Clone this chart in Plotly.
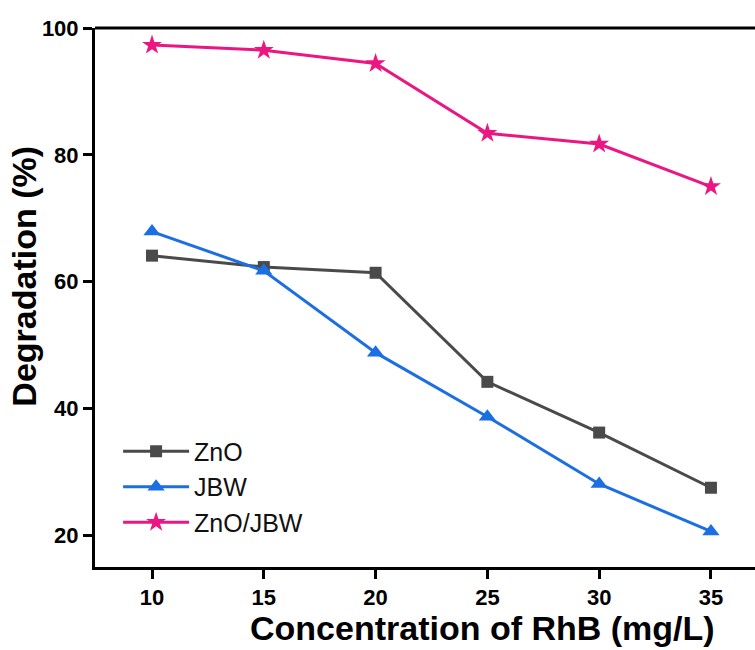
import plotly.graph_objects as go

# Photocatalytic degradation of RhB versus initial dye concentration
concentration = [10, 15, 20, 25, 30, 35]
zno = [64.1, 62.3, 61.4, 44.2, 36.2, 27.5]
jbw = [67.9, 61.7, 48.8, 38.7, 28.1, 20.6]
zno_jbw = [97.3, 96.5, 94.4, 83.4, 81.7, 75.0]

series_names = ["ZnO", "JBW", "ZnO/JBW"]
series_colors = ["#4a4a4a", "#1b6fe3", "#ec1682"]
series_symbols = ["square", "triangle-up", "star"]
series_sizes = [12, 15, 15]
series_values = [zno, jbw, zno_jbw]

y_ticks = [20, 40, 60, 80, 100]

font_family = "Liberation Sans, Arial, sans-serif"

fig = go.Figure()
for name, vals, col, sym, sz in zip(series_names, series_values, series_colors,
                                     series_symbols, series_sizes):
    fig.add_trace(go.Scatter(
        x=concentration, y=vals, name=name, mode="lines+markers",
        line=dict(color=col, width=3),
        marker=dict(symbol=sym, size=sz, color=col),
    ))

fig.update_layout(
    width=755, height=650,
    margin=dict(l=95, r=0, t=28, b=83),
    paper_bgcolor="white", plot_bgcolor="white",
    font=dict(family=font_family, color="black"),
    showlegend=True,
    legend=dict(
        x=0.035, y=0.257, xanchor="left", yanchor="top",
        bgcolor="rgba(0,0,0,0)",
        font=dict(size=25, family=font_family, color="#111"),
        itemwidth=66, tracegroupgap=0,
    ),
)

fig.update_xaxes(
    range=[7.45, 36.97], tickvals=concentration,
    showline=True, linecolor="black", linewidth=3,
    ticks="outside", ticklen=9, tickwidth=2.5, tickcolor="black",
    showgrid=False, zeroline=False,
    tickfont=dict(size=22, family=font_family, weight="bold"),
)
fig.update_yaxes(
    range=[15, 100], tickvals=y_ticks,
    showline=True, linecolor="black", linewidth=3,
    ticks="outside", ticklen=9, tickwidth=2.5, tickcolor="black",
    showgrid=False, zeroline=False,
    tickfont=dict(size=22, family=font_family, weight="bold"),
)

# axis titles
fig.add_annotation(
    text="Concentration of RhB (mg/L)", xref="paper", yref="paper",
    x=0.587, y=-0.113, xanchor="center", yanchor="middle", showarrow=False,
    font=dict(size=34, family=font_family, weight="bold", color="black"),
)
fig.add_annotation(
    text="Degradation (%)", xref="paper", yref="paper", textangle=-90,
    x=-0.108, y=0.54, xanchor="center", yanchor="middle", showarrow=False,
    font=dict(size=34, family=font_family, weight="bold", color="black"),
)

# top frame line along the 100 % level
fig.add_shape(type="line", xref="paper", yref="paper", x0=0, x1=1, y0=1, y1=1,
              line=dict(color="black", width=3))

fig.write_html("out.html")
